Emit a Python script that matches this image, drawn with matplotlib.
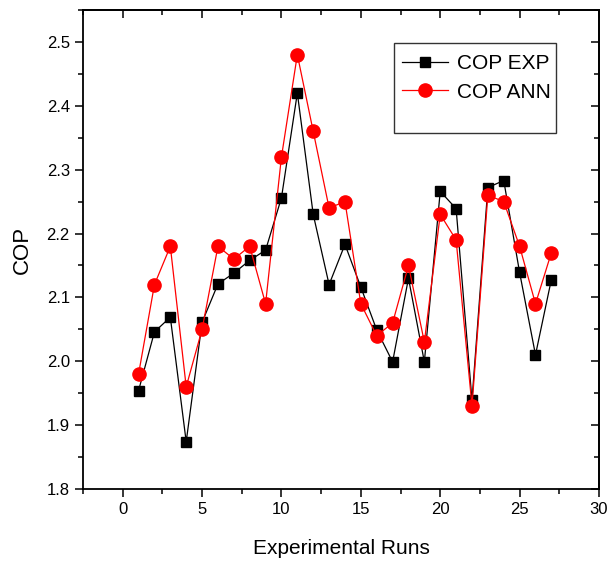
import numpy as np
import matplotlib.pyplot as plt
from matplotlib.patches import Rectangle

plt.rcParams['font.family'] = ['Liberation Sans', 'DejaVu Sans']

# experimental runs
runs = list(range(1, 28))
cop_exp = [1.954, 2.046, 2.069, 1.874, 2.061, 2.121, 2.138, 2.158, 2.174, 2.256,
           2.420, 2.230, 2.120, 2.183, 2.116, 2.049, 1.999, 2.130, 1.999, 2.266,
           2.239, 1.939, 2.272, 2.283, 2.139, 2.010, 2.128]
cop_ann = [1.98, 2.12, 2.18, 1.96, 2.05, 2.18, 2.16, 2.18, 2.09, 2.32,
           2.48, 2.36, 2.24, 2.25, 2.09, 2.04, 2.06, 2.15, 2.03, 2.23,
           2.19, 1.93, 2.26, 2.25, 2.18, 2.09, 2.17]

fig = plt.figure(figsize=(6.08, 5.63), dpi=100)
ax = fig.add_axes([83/608, 1-489/563, 516/608, 479/563])

ax.plot(runs, cop_exp, color='black', lw=0.9, marker='s', ms=7.5,
        markeredgecolor='black', label='COP EXP')
ax.plot(runs, cop_ann, color='red', lw=0.9, marker='o', ms=9.5,
        markeredgecolor='red', label='COP ANN')

ax.set_xlim(-2.5, 30)
ax.set_ylim(1.8, 2.55)
ax.set_xticks([0, 5, 10, 15, 20, 25, 30])
ax.set_xticks(np.arange(-2.5, 30.1, 2.5), minor=True)
ax.set_yticks([1.8, 1.9, 2.0, 2.1, 2.2, 2.3, 2.4, 2.5])
ax.set_yticks(np.arange(1.8, 2.551, 0.05), minor=True)
ax.tick_params(which='major', direction='out', length=6, width=1.1, labelsize=12)
ax.tick_params(which='minor', direction='out', length=3.5, width=1.1)
for s in ax.spines.values():
    s.set_linewidth(1.3)

# inward ticks on the top and right
top = ax.secondary_xaxis('top')
top.set_xticks([0, 5, 10, 15, 20, 25, 30])
top.set_xticks(np.arange(-2.5, 30.1, 2.5), minor=True)
top.tick_params(which='major', direction='in', length=6, width=1.1, labeltop=False)
top.tick_params(which='minor', direction='in', length=3.5, width=1.1)
right = ax.secondary_yaxis('right')
right.set_yticks([1.8, 1.9, 2.0, 2.1, 2.2, 2.3, 2.4, 2.5])
right.set_yticks(np.arange(1.8, 2.551, 0.05), minor=True)
right.tick_params(which='major', direction='in', length=6, width=1.1, labelright=False)
right.tick_params(which='minor', direction='in', length=3.5, width=1.1)
top.spines['top'].set_linewidth(1.3)
right.spines['right'].set_linewidth(1.3)

ax.set_xlabel('Experimental Runs', fontsize=15, labelpad=16)
ax.set_ylabel('COP', fontsize=16, labelpad=10)

ax.add_patch(Rectangle((0.603, 0.743), 0.314, 0.188, transform=ax.transAxes,
                       fill=False, edgecolor='#333333', lw=1.0, zorder=5))
ax.legend(loc='upper left', bbox_to_anchor=(0.603, 0.925), frameon=False,
          fontsize=15, handlelength=2.2, handletextpad=0.4, labelspacing=0.45,
          borderaxespad=0)

fig.savefig('out.png', dpi=100)
